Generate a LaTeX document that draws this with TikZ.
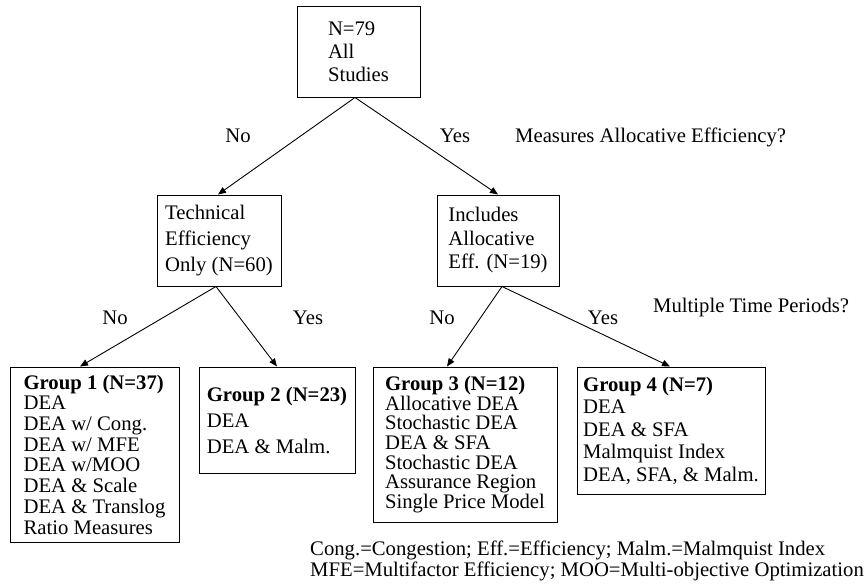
\documentclass[tikz,border=0pt]{standalone}
\usepackage{fontspec}
\setmainfont{Liberation Serif}
\usetikzlibrary{arrows.meta}
\begin{document}
\begin{tikzpicture}[x=1pt,y=-1pt,
  box/.style={draw=black, line width=1pt, align=left, inner sep=0pt,
    font=\fontsize{20.7}{#1}\selectfont},
  box/.default=21,
  arr/.style={-{Triangle[length=8pt,width=6.5pt]}, line width=0.9pt, black},
  lbl/.style={inner sep=0pt, anchor=base, font=\fontsize{20.7}{24}\selectfont},
  quest/.style={inner sep=0pt, anchor=base west, font=\fontsize{20.7}{24}\selectfont},
  note/.style={inner sep=0pt, align=left, font=\fontsize{20.7}{21}\selectfont}]
\useasboundingbox (0,0) rectangle (866,586);

% root
\node[box=23, minimum width=123pt, minimum height=90pt] (all) at (358.5,52)
  {N=79\\All\\Studies};

% first split
\node[box=26, minimum width=124pt, minimum height=91pt] (tech) at (219,240.5)
  {Technical\\Efficiency\\Only (N=60)};
\node[box=23.5, minimum width=122pt, minimum height=91pt] (incl) at (498,240.5)
  {Includes\\Allocative\\Eff. (N=19)};

% groups
\node[box=20.7, minimum width=169pt, minimum height=175pt] (g1) at (94.5,454.5)
  {\textbf{Group 1 (N=37)}\\DEA\\DEA w/ Cong.\\DEA w/ MFE\\DEA w/MOO\\DEA \& Scale\\DEA \& Translog\\Ratio Measures};
\node[box=26, minimum width=156pt, minimum height=106pt] (g2) at (277,420)
  {\textbf{Group 2 (N=23)}\\DEA\\DEA \& Malm.};
\node[box=19.7, minimum width=184pt, minimum height=155pt] (g3) at (465,444.5)
  {\textbf{Group 3 (N=12)}\\Allocative DEA\\Stochastic DEA\\DEA \& SFA\\Stochastic DEA\\Assurance Region\\Single Price Model};
\node[box=22.5, minimum width=188pt, minimum height=127pt] (g4) at (671,430.5)
  {\textbf{Group 4 (N=7)}\\DEA\\DEA \& SFA\\Malmquist Index\\DEA, SFA, \& Malm.};

% connectors
\draw[arr] ([xshift=-3.5pt]all.south) -- ([xshift=-1pt]tech.north);
\draw[arr] ([xshift=-3.5pt]all.south) -- (incl.north);
\draw[arr] ([xshift=-3pt]tech.south) -- ([xshift=-14.5pt]g1.north);
\draw[arr] ([xshift=-3pt]tech.south) -- (g2.north);
\draw[arr] ([xshift=4pt]incl.south) -- ([xshift=-18pt]g3.north);
\draw[arr] ([xshift=4pt]incl.south) -- ([xshift=-1pt]g4.north);

% branch labels
\node[lbl] (no1) at (238,142) {No};
\node[lbl] (yes1) at (455,142) {Yes};
\node[quest] (q1) at (515,142) {Measures Allocative Efficiency?};
\node[lbl] (no2) at (115,324) {No};
\node[lbl] (yes2) at (308,324) {Yes};
\node[lbl] (no3) at (442,324) {No};
\node[lbl] (yes3) at (603,324) {Yes};
\node[quest] (q2) at (653,312) {Multiple Time Periods?};

% abbreviations
\node[note, anchor=east] (legend) at (864,561)
  {Cong.=Congestion; Eff.=Efficiency; Malm.=Malmquist Index\\MFE=Multifactor Efficiency; MOO=Multi-objective Optimization};
\end{tikzpicture}
\end{document}
